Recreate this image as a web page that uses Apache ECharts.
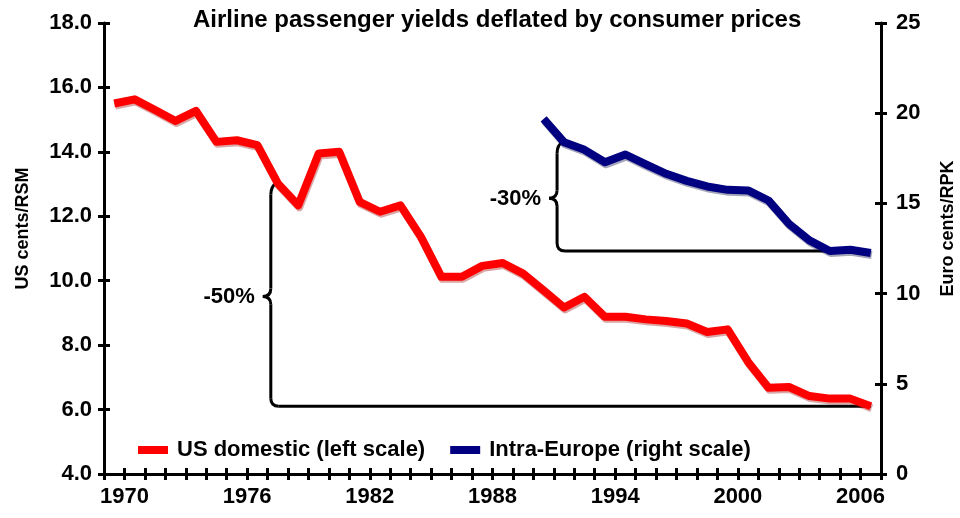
<!DOCTYPE html>
<html>
<head>
<meta charset="utf-8">
<script src="https://cdn.jsdelivr.net/npm/echarts@6/dist/echarts.min.js"></script>
<style>
  html, body { margin: 0; padding: 0; background: #fff; }
  #chart { width: 960px; height: 518px; }
</style>
</head>
<body>
<div id="chart"></div>
<script>
// annual values, plotted at mid-year
const usYears = [1969, 1970, 1971, 1972, 1973, 1974, 1975, 1976, 1977, 1978,
  1979, 1980, 1981, 1982, 1983, 1984, 1985, 1986, 1987, 1988,
  1989, 1990, 1991, 1992, 1993, 1994, 1995, 1996, 1997, 1998,
  1999, 2000, 2001, 2002, 2003, 2004, 2005, 2006]
const usDomestic = [15.5, 15.63, 15.3, 14.96, 15.27, 14.31, 14.36, 14.21, 13.02, 12.34,
  13.95, 14.0, 12.45, 12.14, 12.34, 11.36, 10.12, 10.12, 10.46, 10.55,
  10.22, 9.7, 9.17, 9.5, 8.88, 8.88, 8.8, 8.75, 8.67, 8.41,
  8.49, 7.48, 6.68, 6.7, 6.42, 6.34, 6.34, 6.1]

const euYears = [1990, 1991, 1992, 1993, 1994, 1995, 1996, 1997, 1998, 1999,
  2000, 2001, 2002, 2003, 2004, 2005, 2006]
const intraEurope = [19.68, 18.39, 17.97, 17.28, 17.71, 17.16, 16.64, 16.25, 15.94, 15.75,
  15.72, 15.16, 13.87, 12.95, 12.36, 12.43, 12.25]

const xLabels = [1970, 1976, 1982, 1988, 1994, 2000, 2006]

// brackets: [series, from year, to year, text]
const brackets = [
  ['us', 1977, 2006, '-50%'],
  ['eu', 1991, 2004, '-30%']
]

const font = '"Liberation Sans", Arial, sans-serif'
const chart = echarts.init(document.getElementById('chart'))

const usData = usYears.map((y, i) => [y + 0.5, usDomestic[i]])
const euData = euYears.map((y, i) => [y + 0.5, intraEurope[i]])

const lbl = { color: '#000', fontFamily: font, fontWeight: 'bold', fontSize: 22 }
const tick = { color: '#000', width: 3 }

chart.setOption({
  animation: false,
  title: {
    text: 'Airline passenger yields deflated by consumer prices',
    left: 188, top: 3,
    textStyle: { ...lbl, fontSize: 24 }
  },
  legend: {
    left: 133, top: 434, itemGap: 25, itemWidth: 30, itemHeight: 8,
    icon: 'rect',
    textStyle: { ...lbl, padding: [0, 0, 0, 4] },
    data: ['US domestic (left scale)', 'Intra-Europe (right scale)']
  },
  grid: { left: 104, right: 79, top: 23, bottom: 44, outerBoundsMode: 'none' },
  xAxis: [
    {
      type: 'value', min: 1969, max: 2007, interval: 1,
      axisLine: { lineStyle: tick },
      axisTick: { length: 6, lineStyle: tick },
      axisLabel: {
        ...lbl, margin: 12,
        formatter: v => xLabels.includes(v) ? String(v) : ''
      },
      splitLine: { show: false }
    },
    {
      type: 'value', min: 1969, max: 2007, interval: 1, position: 'bottom',
      axisLine: { show: false },
      axisTick: { inside: true, length: 6, lineStyle: tick },
      axisLabel: { show: false },
      splitLine: { show: false }
    }
  ],
  yAxis: [
    {
      type: 'value', min: 4, max: 18, interval: 2, position: 'left',
      name: 'US cents/RSM', nameLocation: 'middle', nameGap: 72,
      nameTextStyle: { ...lbl, fontSize: 18, padding: [0, 0, 0, 40] },
      axisLine: { show: true, lineStyle: tick },
      axisTick: { show: true, length: 6, lineStyle: tick },
      axisLabel: { ...lbl, margin: 12, formatter: v => v.toFixed(1) },
      splitLine: { show: false }
    },
    {
      type: 'value', min: 0, max: 25, interval: 5, position: 'right',
      name: 'Euro cents/RPK', nameLocation: 'middle', nameGap: 58,
      nameTextStyle: { ...lbl, fontSize: 18, padding: [0, 0, 0, 40] },
      axisLine: { show: true, lineStyle: tick },
      axisTick: { show: true, length: 6, lineStyle: tick },
      axisLabel: { ...lbl, margin: 15 },
      splitLine: { show: false }
    },
    {
      type: 'value', min: 4, max: 18, interval: 2, position: 'left',
      axisLine: { show: false },
      axisTick: { show: true, inside: true, length: 6, lineStyle: tick },
      axisLabel: { show: false }, splitLine: { show: false }
    },
    {
      type: 'value', min: 0, max: 25, interval: 5, position: 'right',
      axisLine: { show: false },
      axisTick: { show: true, inside: true, length: 6, lineStyle: tick },
      axisLabel: { show: false }, splitLine: { show: false }
    }
  ],
  series: [
    {
      name: 'US domestic (left scale)', type: 'line', yAxisIndex: 0, data: usData,
      showSymbol: false, z: 5,
      color: '#ff0000',
      lineStyle: { color: '#ff0000', width: 8, join: 'round',
        shadowColor: 'rgba(150,0,0,0.35)', shadowOffsetX: 1, shadowOffsetY: 2 }
    },
    {
      name: 'Intra-Europe (right scale)', type: 'line', yAxisIndex: 1, data: euData,
      showSymbol: false, z: 5,
      color: '#000080',
      lineStyle: { color: '#000080', width: 8, join: 'round',
        shadowColor: 'rgba(0,0,60,0.35)', shadowOffsetX: 1, shadowOffsetY: 2 }
    }
  ]
})

// draw the bracket annotations in data space
function drawBrackets() {
  const els = []
  const st = { stroke: '#000', lineWidth: 3, fill: null }
  const line = (x1, y1, x2, y2) => ({ type: 'line', z: 1, shape: { x1, y1, x2, y2 }, style: st })
  const curve = (x1, y1, cpx1, cpy1, x2, y2) =>
    ({ type: 'bezierCurve', z: 1, shape: { x1, y1, cpx1, cpy1, x2, y2 }, style: st })
  brackets.forEach(([which, y0, y1, text]) => {
    const yrs = which === 'us' ? usYears : euYears
    const vals = which === 'us' ? usDomestic : intraEurope
    const finder = { xAxisIndex: 0, yAxisIndex: which === 'us' ? 0 : 1 }
    const pTop = chart.convertToPixel(finder, [y0 + 0.5, vals[yrs.indexOf(y0)]])
    const pBot = chart.convertToPixel(finder, [y1 + 0.5, vals[yrs.indexOf(y1)]])
    const x0 = pTop[0] - 7, top = pTop[1] + 3, bot = pBot[1], mid = (top + bot) / 2, r = 8
    els.push(curve(x0 + 6, top - 4, x0, top, x0, top + r))
    els.push(line(x0, top + r, x0, mid - r))
    els.push(curve(x0, mid - r, x0, mid, x0 - r, mid))
    els.push(curve(x0 - r, mid, x0, mid, x0, mid + r))
    els.push(line(x0, mid + r, x0, bot - r))
    els.push(curve(x0, bot - r, x0, bot, x0 + r, bot))
    els.push(line(x0 + r, bot, pBot[0], bot))
    els.push({
      type: 'text', z: 1, x: x0 - r - 8, y: mid + 1,
      style: { text, fill: '#000', font: `bold 22px ${font}`, align: 'right', verticalAlign: 'middle' }
    })
  })
  chart.setOption({ graphic: els })
}
drawBrackets()
</script>
</body>
</html>
